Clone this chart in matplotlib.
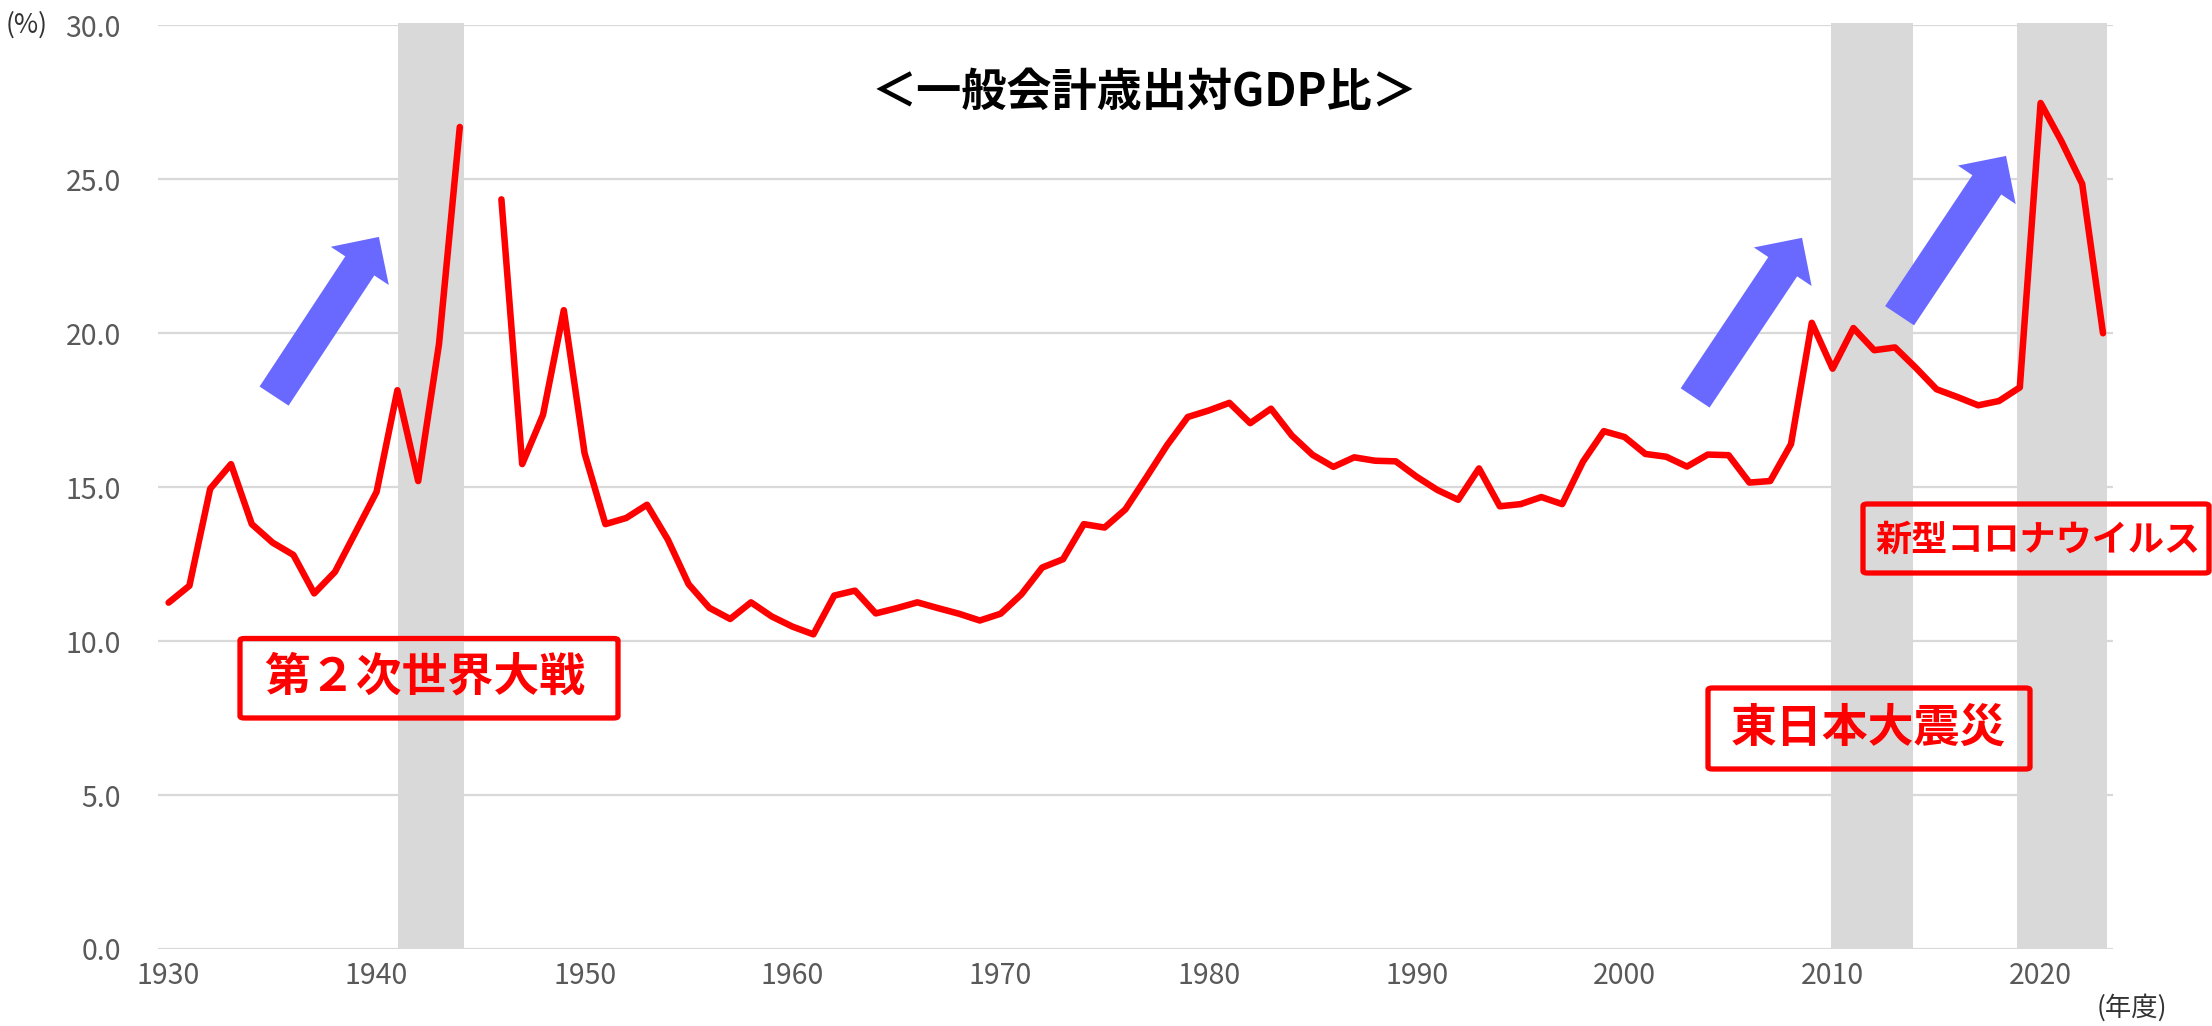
import numpy as np
import matplotlib
matplotlib.use("Agg")
import matplotlib.pyplot as plt
from matplotlib.patches import FancyArrowPatch, FancyBboxPatch, ArrowStyle

plt.rcParams['font.family'] = ['Noto Sans CJK JP', 'DejaVu Sans']

# ---------------- data ----------------
years = list(range(1930, 2024))
ratio = [
    11.25, 11.8, 14.95, 15.75, 13.8, 13.2, 12.8, 11.55, 12.25, 13.55,   # 1930-1939
    14.85, 18.15, 15.2, 19.65, 26.7, np.nan, 24.35, 15.75, 17.35, 20.75, # 1940-1949
    16.1, 13.8, 14.0, 14.43, 13.3, 11.85, 11.08, 10.72, 11.26, 10.8,     # 1950-1959
    10.47, 10.22, 11.48, 11.64, 10.9, 11.07, 11.26, 11.07, 10.89, 10.67,  # 1960-1969
    10.89, 11.52, 12.39, 12.66, 13.8, 13.69, 14.28, 15.31, 16.36, 17.28,  # 1970-1979
    17.49, 17.74, 17.08, 17.55, 16.68, 16.05, 15.66, 15.97, 15.86, 15.84, # 1980-1989
    15.34, 14.91, 14.59, 15.61, 14.38, 14.45, 14.68, 14.45, 15.83, 16.82, # 1990-1999
    16.63, 16.08, 15.99, 15.67, 16.06, 16.04, 15.15, 15.2, 16.4, 20.34,   # 2000-2009
    18.85, 20.17, 19.45, 19.54, 18.88, 18.18, 17.93, 17.66, 17.8, 18.24,  # 2010-2019
    27.48, 26.24, 24.85, 20.0,                                            # 2020-2023
]
x_ticks = [1930, 1940, 1950, 1960, 1970, 1980, 1990, 2000, 2010, 2020]
y_ticks = [0, 5, 10, 15, 20, 25, 30]

# shaded periods (start, end) in years
bands = [(1941.05, 1944.2), (2009.9, 2013.85), (2018.86, 2023.2)]

# arrows (tail year, tail value, tip year, tip value)
arrows = [
    (1935.07, 17.96, 1940.11, 23.13),
    (2003.39, 17.90, 2008.53, 23.10),
    (2013.22, 20.57, 2018.34, 25.76),
]

title = "＜一般会計歳出対GDP比＞"
labels = ["第２次世界大戦", "東日本大震災", "新型コロナウイルス"]

# ---------------- figure ----------------
W, H = 2212, 1026
fig = plt.figure(figsize=(W / 100, H / 100), dpi=100)


def fx(px):
    return px / W


def fy(py):
    return 1 - py / H


ax_left, ax_right, ax_top, ax_bot = 158.2, 2113.4, 25.4, 949.0
ax = fig.add_axes([fx(ax_left), fy(ax_bot), (ax_right - ax_left) / W, (ax_bot - ax_top) / H])

ax.set_xlim(1929.5, 2023.5)
ax.set_ylim(0, 30)

ax.set_axisbelow(True)
ax.yaxis.grid(True, color='#D9D9D9', lw=1.6, zorder=0.5)
ax.xaxis.grid(False)
for s in ax.spines.values():
    s.set_visible(False)

ax.set_yticks(y_ticks)
ax.set_yticklabels([f"{v:.1f}" for v in y_ticks])
ax.set_xticks(x_ticks)
ax.set_xticklabels([str(v) for v in x_ticks])
ax.tick_params(axis='both', length=0, labelcolor='#595959', labelsize=20.5)
ax.tick_params(axis='y', pad=27)
ax.tick_params(axis='x', pad=9)

for b0, b1 in bands:
    ax.axvspan(b0, b1, ymin=0, ymax=30.08 / 30, color='#D9D9D9', lw=0, zorder=1, clip_on=False)

ax.plot(years, ratio, color='#FF0000', lw=4.7, zorder=3,
        solid_capstyle='round', solid_joinstyle='round')

style = ArrowStyle.Simple(head_length=25, head_width=50, tail_width=25)
for x0, y0, x1, y1 in arrows:
    ar = FancyArrowPatch((x0, y0), (x1, y1), arrowstyle=style, mutation_scale=1,
                         shrinkA=0, shrinkB=0, color='#6969FF', lw=0, zorder=4,
                         transform=ax.transData, clip_on=False)
    ax.add_patch(ar)

# title
fig.text(fx(1144), fy(93), title, ha='center', va='center', fontsize=32.5,
         fontweight='bold', color='black')

# axis unit labels
fig.text(fx(27), fy(25), "(%)", ha='center', va='center', fontsize=19, color='#333333')
fig.text(fx(2132), fy(1008), "(年度)", ha='center', va='center', fontsize=19, color='#333333')

# annotation boxes (x0, y0, x1, y1 in px), text centre, fontsize
boxes = [
    ((240, 638.5, 618, 718), (425, 678), 33),
    ((1708, 688, 2030, 769), (1868, 728.5), 33),
    ((1863, 504, 2209, 573), (2038, 540), 26),
]
for (bx0, by0, bx1, by1), (tx, ty), fs in boxes:
    rect = FancyBboxPatch((fx(bx0), fy(by1)), (bx1 - bx0) / W, (by1 - by0) / H,
                          boxstyle='round,pad=0,rounding_size=0.002',
                          transform=fig.transFigure, fill=False, ec='#FF0000', lw=3.8,
                          zorder=5)
    fig.add_artist(rect)
for lab, ((bx0, by0, bx1, by1), (tx, ty), fs) in zip(labels, boxes):
    fig.text(fx(tx), fy(ty), lab, ha='center', va='center', fontsize=fs,
             fontweight='bold', color='#FF0000', zorder=6)

fig.savefig("out.png", dpi=100)
